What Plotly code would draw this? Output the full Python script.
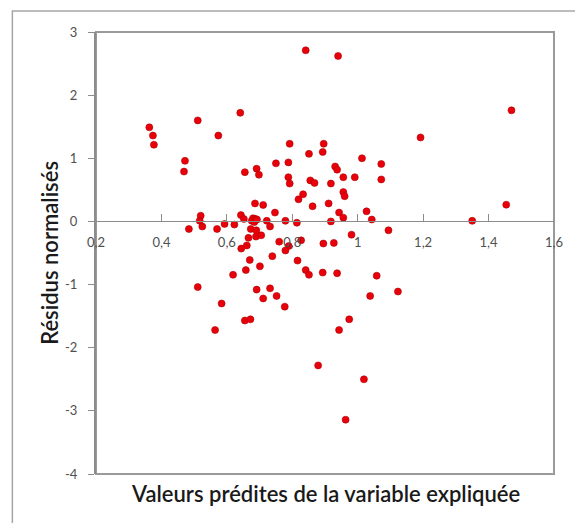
import plotly.graph_objects as go

# Predicted values (x) and normalised residuals (y)
predicted = [
    0.841, 0.940, 1.470, 0.641, 0.511, 0.363, 0.374, 0.377, 0.574, 1.192,
    0.792, 0.896, 0.851, 0.893, 1.013, 0.472, 0.469, 0.750, 0.788, 1.072,
    0.691, 0.698, 0.655, 0.931, 0.937, 0.788, 0.956, 0.991, 1.072, 0.792,
    0.855, 0.868, 0.918, 0.956, 0.960, 0.833, 0.819, 0.862, 0.911, 0.686,
    0.711, 1.027, 0.943, 0.747, 1.043, 0.956, 1.454, 1.350, 0.918, 0.779,
    0.814, 1.094, 0.981, 0.895, 0.927, 0.827, 0.760,
    0.520, 0.517, 0.525, 0.484, 0.570, 0.593, 0.623, 0.643, 0.652,
    0.680, 0.687, 0.676, 0.684, 0.692, 0.722, 0.732, 0.673, 0.690,
    0.666, 0.689, 0.705, 0.661, 0.644, 0.789, 0.779, 0.739, 0.670,
    0.816, 0.701, 0.658, 0.619, 0.841, 0.851, 0.893, 0.937, 1.058,
    0.511, 0.691, 0.732, 0.711, 0.752, 1.038, 1.123, 0.584, 0.777,
    0.655, 0.672, 0.974, 0.564, 0.943, 0.879, 1.019, 0.963,
]
residuals = [
    2.71, 2.62, 1.76, 1.72, 1.60, 1.49, 1.36, 1.215, 1.36, 1.33,
    1.23, 1.23, 1.07, 1.10, 1.00, 0.96, 0.79, 0.92, 0.935, 0.91,
    0.835, 0.74, 0.78, 0.87, 0.82, 0.70, 0.70, 0.70, 0.665, 0.60,
    0.65, 0.61, 0.60, 0.465, 0.40, 0.43, 0.35, 0.24, 0.285, 0.285,
    0.26, 0.16, 0.14, 0.14, 0.03, 0.06, 0.265, 0.01, 0.00, 0.01,
    -0.02, -0.14, -0.21, -0.35, -0.34, -0.30, -0.32,
    0.09, 0.01, -0.08, -0.12, -0.12, -0.04, -0.05, 0.10, 0.04,
    0.05, 0.04, 0.01, -0.01, 0.03, 0.01, -0.08, -0.12, -0.14,
    -0.26, -0.24, -0.22, -0.38, -0.43, -0.39, -0.46, -0.55, -0.61,
    -0.62, -0.71, -0.77, -0.845, -0.77, -0.845, -0.81, -0.82, -0.86,
    -1.04, -1.08, -1.06, -1.22, -1.18, -1.18, -1.11, -1.30, -1.35,
    -1.57, -1.55, -1.55, -1.72, -1.72, -2.28, -2.50, -3.14,
]

x_tick_vals = [0.2, 0.4, 0.6, 0.8, 1.0, 1.2, 1.4, 1.6]
x_tick_text = ["0,2", "0,4", "0,6", "0,8", "1", "1,2", "1,4", "1,6"]
y_tick_vals = [-4, -3, -2, -1, 0, 1, 2, 3]
y_tick_text = ["-4", "-3", "-2", "-1", "0", "1", "2", "3"]

x_title = "Valeurs prédites de la variable expliquée"
y_title = "Résidus normalisés"

fig = go.Figure()
fig.add_trace(go.Scatter(
    x=predicted, y=residuals, mode="markers",
    marker=dict(size=7, color="#e8000b", line=dict(width=0.6, color="#b00000")),
    showlegend=False, cliponaxis=False,
))

tick_font = dict(family="Lato, Liberation Sans, sans-serif", size=13, color="#505050")
title_font = dict(family="Lato, sans-serif", size=22, color="#1a1a1a", weight=600)

fig.update_layout(
    width=575, height=523,
    margin=dict(l=96, r=19, t=32, b=49),
    paper_bgcolor="white", plot_bgcolor="white",
    separators=", ",
    xaxis=dict(
        range=[0.2, 1.6], tickvals=x_tick_vals, ticktext=x_tick_text,
        anchor="free", position=4 / 7,
        showline=True, linecolor="#8c8c8c", linewidth=1,
        ticks="inside", ticklen=7, tickcolor="#8c8c8c",
        showgrid=False, zeroline=False, tickfont=tick_font,
        ticklabelstandoff=9,
    ),
    yaxis=dict(
        range=[-4, 3], tickvals=y_tick_vals, ticktext=y_tick_text,
        showline=True, linecolor="#8c8c8c", linewidth=2,
        ticks="outside", ticklen=6, tickcolor="#8c8c8c",
        showgrid=False, zeroline=False, tickfont=tick_font,
        ticklabelstandoff=8,
    ),
    shapes=[
        # plot-area frame
        dict(type="rect", xref="paper", yref="paper", x0=0, y0=0, x1=1, y1=1,
             line=dict(color="#9a9a9a", width=2), layer="below"),
        # outer chart frame
        dict(type="rect", xref="paper", yref="paper",
             x0=-0.1826, y0=-0.2, x1=1.2, y1=1.0475,
             line=dict(color="#a6a6a6", width=1.5), layer="below"),
    ],
    annotations=[
        dict(text=x_title, xref="paper", yref="paper", x=0.5, y=-0.01,
             xanchor="center", yanchor="top", showarrow=False, font=title_font),
        dict(text=y_title, xref="paper", yref="paper", x=-0.103, y=0.5,
             xanchor="center", yanchor="middle", showarrow=False, textangle=-90,
             font=title_font),
    ],
)

fig.write_html(
    "out.html",
    config={"displayModeBar": False},
    post_script="document.body.style.margin='0';document.body.style.overflow='hidden';",
)
